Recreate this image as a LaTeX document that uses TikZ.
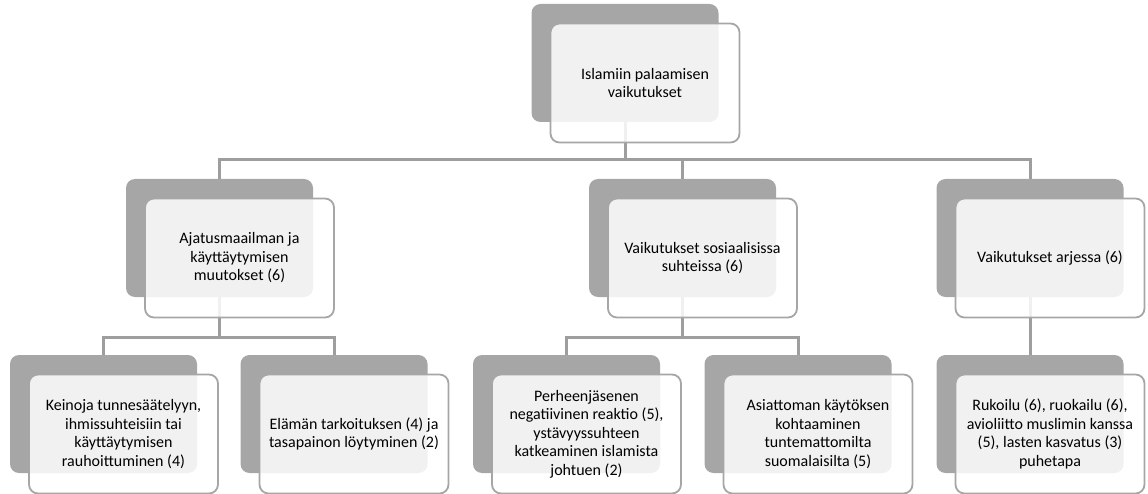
\documentclass[tikz,border=0pt]{standalone}
\usepackage{fontspec}
\setmainfont{Carlito}
\definecolor{boxgray}{RGB}{166,166,166}
\definecolor{linegray}{RGB}{158,158,158}
\begin{document}
\begin{tikzpicture}[x=1pt,y=-1pt]
\tikzset{
    back/.style={rectangle, rounded corners=9pt, fill=boxgray, draw=none,
        minimum width=187pt, minimum height=118pt, inner sep=0pt},
    front/.style={rectangle, rounded corners=9pt, draw=boxgray, line width=1.8pt,
        fill=white, fill opacity=0.85, text opacity=1, align=center,
        minimum width=189pt, minimum height=119pt, inner sep=0pt,
        xshift=20pt, yshift=-20pt,
        font=\fontsize{16}{18.5}\selectfont},
    link/.style={draw=linegray, line width=3pt}}
\def\rowa{63}
\def\rowb{238}
\def\rowc{414}

\useasboundingbox (0,0) rectangle (1148,494);

% back plates
\node[back] (B0) at (625,\rowa) {};
\node[back] (B1) at (219.5,\rowb) {};
\node[back] (B2) at (682.5,\rowb) {};
\node[back] (B3) at (1030,\rowb) {};
\node[back] (C1) at (103.5,\rowc) {};
\node[back] (C2) at (334,\rowc) {};
\node[back] (C3) at (566.5,\rowc) {};
\node[back] (C4) at (798,\rowc) {};
\node[back] (C5) at (1030,\rowc) {};

% connectors
\coordinate (J0) at (625,160);
\coordinate (J1) at (219.5,337);
\coordinate (J2) at (682.5,337);

\draw[link] (B0.south) -- (J0);
\draw[link] (J0) -| (B1.north);
\draw[link] (J0) -| (B2.north);
\draw[link] (J0) -| (B3.north);

\draw[link] (B1.south) -- (J1);
\draw[link] (J1) -| (C1.north);
\draw[link] (J1) -| (C2.north);

\draw[link] (B2.south) -- (J2);
\draw[link] (J2) -| (C3.north);
\draw[link] (J2) -| (C4.north);

\draw[link] (B3.south) -- (C5.north);

% front cards
\node[front] (T0) at (B0) {Islamiin palaamisen\\vaikutukset};
\node[front] (T1) at (B1) {Ajatusmaailman ja\\käyttäytymisen\\muutokset (6)};
\node[front] (T2) at (B2) {Vaikutukset sosiaalisissa\\suhteissa (6)};
\node[front] (T3) at (B3) {Vaikutukset arjessa (6)};
\node[front] (U1) at (C1) {Keinoja tunnesäätelyyn,\\ihmissuhteisiin tai\\käyttäytymisen\\rauhoittuminen (4)};
\node[front] (U2) at (C2) {Elämän tarkoituksen (4) ja\\tasapainon löytyminen (2)};
\node[front] (U3) at (C3) {Perheenjäsenen\\negatiivinen reaktio (5),\\ystävyyssuhteen\\katkeaminen islamista\\johtuen (2)};
\node[front] (U4) at (C4) {Asiattoman käytöksen\\kohtaaminen\\tuntemattomilta\\suomalaisilta (5)};
\node[front] (U5) at (C5) {Rukoilu (6), ruokailu (6),\\avioliitto muslimin kanssa\\(5), lasten kasvatus (3)\\puhetapa};

\end{tikzpicture}
\end{document}
